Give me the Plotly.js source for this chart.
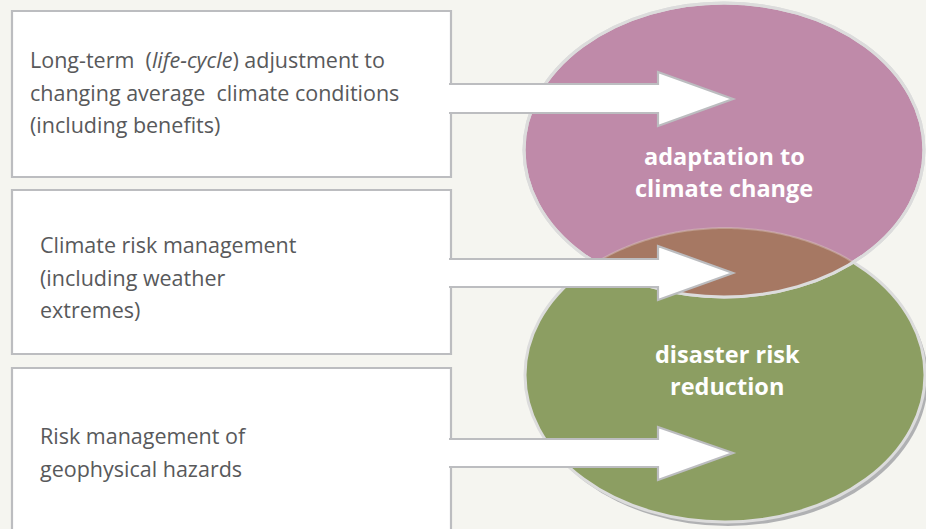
<!DOCTYPE html>
<html><head><meta charset="utf-8">
<script src="https://cdn.plot.ly/plotly-3.0.1.min.js"></script>
<style>html,body{margin:0;padding:0;background:#f5f5f0;}#chart{width:926px;height:529px;}</style>
</head><body><div id="chart"></div>
<script>
// ---- content ----
const boxLines = [
  ["Long-term  (<i>life-cycle</i>) adjustment to", "changing average  climate conditions", "(including benefits)"],
  ["Climate risk management", "(including weather", "extremes)"],
  ["Risk management of", "geophysical hazards"]
];
const ellipseLabels = [["adaptation to", "climate change"], ["disaster risk", "reduction"]];

// ---- geometry (pixel-space coordinates on hidden axes) ----
const boxes = [ {x0:12, x1:451, y0:11, y1:177, gapTop:84, gapBot:113, textX:28, textY:[59,92,124]},
                {x0:12, x1:451, y0:190, y1:354, gapTop:259, gapBot:287, textX:38, textY:[244,277,309]},
                {x0:12, x1:451, y0:368, y1:560, gapTop:439, gapBot:467, textX:38, textY:[435,468]} ];
const arrows = [ {shaftTop:84, shaftBot:113, headTop:72, headBot:126, tipY:99},
                 {shaftTop:259, shaftBot:287, headTop:246, headBot:300, tipY:273},
                 {shaftTop:439, shaftBot:467, headTop:427, headBot:480, tipY:453} ];
const headX = 658, tipX = 733;
const ell = [ {cx:724, cy:150, rx:200, ry:147, fill:"#bf8aa9", labelY:[156,188], labelX:724},
              {cx:725, cy:375, rx:200, ry:147, fill:"#8c9e62", labelY:[354,386], labelX:727} ];

const lineCol = "#bcbdc0", textCol = "#58595b", bg = "#f5f5f0";
const shapes = [], annotations = [];

function ellipseShape(e, fill, line, lw, dx=0, dy=0){
  return {type:"circle", xref:"x", yref:"y", x0:e.cx-e.rx+dx, x1:e.cx+e.rx+dx, y0:e.cy-e.ry+dy, y1:e.cy+e.ry+dy,
          fillcolor:fill, line:{color:line, width:lw}, layer:"above"};
}
// boxes
boxes.forEach(b => {
  shapes.push({type:"rect", x0:b.x0, x1:b.x1, y0:b.y0, y1:b.y1, fillcolor:"#ffffff", line:{width:0}, layer:"above"});
  shapes.push({type:"path", path:`M ${b.x1},${b.gapTop} L ${b.x1},${b.y0} L ${b.x0},${b.y0} L ${b.x0},${b.y1} L ${b.x1},${b.y1} L ${b.x1},${b.gapBot}`,
               fillcolor:"rgba(0,0,0,0)", line:{color:lineCol, width:2.2}, layer:"above"});
});
// ellipses
const E1 = ell[0], E2 = ell[1];
shapes.push(ellipseShape(E2, "#b0b1b3", "rgba(0,0,0,0)", 0, 3, 4));
shapes.push(ellipseShape(E2, E2.fill, "#dcdcdc", 3));
shapes.push(ellipseShape(E1, E1.fill, "#dcdcdc", 3));
// intersection (brown)
function inside(e, x, y){ return ((x-e.cx)/e.rx)**2 + ((y-e.cy)/e.ry)**2 <= 1; }
let pts = [];
const N = 400;
for (let i=0;i<N;i++){ const t = 2*Math.PI*i/N; const x=E2.cx+E2.rx*Math.cos(t), y=E2.cy+E2.ry*Math.sin(t); if (inside(E1,x,y)) pts.push([x,y]); }
let pts1 = [];
for (let i=0;i<N;i++){ const t = 2*Math.PI*i/N; const x=E1.cx+E1.rx*Math.cos(t), y=E1.cy+E1.ry*Math.sin(t); if (inside(E2,x,y)) pts1.push([x,y]); }
pts.sort((a,b)=>a[0]-b[0]); pts1.sort((a,b)=>b[0]-a[0]);
const poly = pts.concat(pts1);
shapes.push({type:"path", path:"M " + poly.map(p=>p[0].toFixed(1)+","+p[1].toFixed(1)).join(" L ") + " Z",
             fillcolor:"#a67863", line:{width:0}, layer:"above"});
// faint green top edge inside overlap
shapes.push({type:"path", path:"M " + pts.map(p=>p[0].toFixed(1)+","+p[1].toFixed(1)).join(" L "),
             fillcolor:"rgba(0,0,0,0)", line:{color:"rgba(220,200,190,0.45)", width:2}, layer:"above"});
// pink outline over overlap
shapes.push(ellipseShape(E1, "rgba(0,0,0,0)", "#dcdcdc", 3));
// arrows
arrows.forEach(a => {
  shapes.push({type:"path", path:`M 449,${a.shaftTop} L ${headX},${a.shaftTop} L ${headX},${a.headTop} L ${tipX},${a.tipY} L ${headX},${a.headBot} L ${headX},${a.shaftBot} L 449,${a.shaftBot}`,
               fillcolor:"#ffffff", line:{color:lineCol, width:2.2}, layer:"above"});
});
// box text
boxLines.forEach((lines, i) => {
  lines.forEach((txt, j) => {
    annotations.push({x:boxes[i].textX, y:boxes[i].textY[j], xref:"x", yref:"y", text:txt, showarrow:false,
      xanchor:"left", yanchor:"middle", font:{family:"Open Sans, sans-serif", size:21.5, color:textCol}});
  });
});
// ellipse labels
ellipseLabels.forEach((lines, i) => {
  lines.forEach((txt, j) => {
    annotations.push({x:ell[i].labelX, y:ell[i].labelY[j], xref:"x", yref:"y", text:"<b>"+txt+"</b>", showarrow:false,
      xanchor:"center", yanchor:"middle", font:{family:"Open Sans, sans-serif", size:23.5, color:"#ffffff"}});
  });
});

Plotly.newPlot("chart", [{x:[], y:[], type:"scatter", mode:"markers", hoverinfo:"skip", showlegend:false}], {
  width:926, height:529, margin:{l:0,r:0,t:0,b:0},
  paper_bgcolor:bg, plot_bgcolor:bg, showlegend:false,
  xaxis:{range:[0,926], visible:false, fixedrange:true},
  yaxis:{range:[529,0], visible:false, fixedrange:true},
  shapes, annotations
}, {staticPlot:true, displayModeBar:false});
</script></body></html>
